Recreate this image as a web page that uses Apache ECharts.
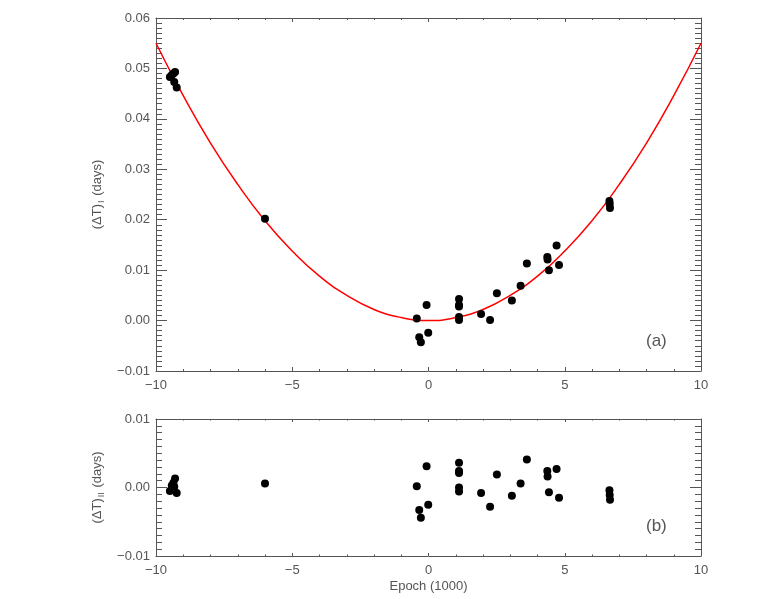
<!DOCTYPE html>
<html>
<head>
<meta charset="utf-8">
<script src="https://cdn.jsdelivr.net/npm/echarts@6/dist/echarts.min.js"></script>
<style>
  html, body { margin: 0; padding: 0; background: #fff; }
  #chart { width: 779px; height: 599px; }
</style>
</head>
<body>
<div id="chart"></div>
<script>
  // epoch in units of 1000 cycles
  const epoch = [
    -9.49, -9.42, -9.36, -9.30, -9.33, -9.24,
    -6.00,
    -0.43, -0.34, -0.28, -0.07, -0.01,
    1.12, 1.12, 1.12, 1.12, 1.12,
    1.93, 2.26, 2.51, 3.06, 3.38, 3.61, 4.36, 4.37, 4.42, 4.70, 4.79,
    6.64, 6.65, 6.66
  ];
  // (dT)_I, days
  const dtOne = [
    0.0483, 0.0487, 0.0490, 0.0493, 0.0473, 0.0462,
    0.0202,
    0.0004, -0.0033, -0.0043, 0.0031, -0.0024,
    0.0043, 0.0031, 0.0028, 0.0007, 0.0001,
    0.0013, 0.0001, 0.0054, 0.0040, 0.0069, 0.0113, 0.0126, 0.0121, 0.0100, 0.0149, 0.0110,
    0.0237, 0.0231, 0.0223
  ];
  // (dT)_II residuals, days
  const dtTwo = [
    -0.0005, 0.0003, 0.0007, 0.0013, 0.0001, -0.0008,
    0.0006,
    0.0002, -0.0033, -0.0044, 0.0031, -0.0025,
    0.0036, 0.0024, 0.0021, 0.0000, -0.0006,
    -0.0008, -0.0028, 0.0019, -0.0012, 0.0006, 0.0041, 0.0024, 0.0016, -0.0007, 0.0027, -0.0015,
    -0.0004, -0.0011, -0.0018
  ];
  // fitted curve
  const fitEpoch = [-10, -9, -8, -7, -6, -5, -4, -3, -2, -1, 0, 1, 2, 3, 4, 5, 6, 7, 8, 9, 10];
  const fitDt = [
    0.0550, 0.0446, 0.0352, 0.0270, 0.0198, 0.0138, 0.0088, 0.0050, 0.0022, 0.0006,
    0.0000,
    0.0006, 0.0022, 0.0050, 0.0088, 0.0138, 0.0198, 0.0270, 0.0352, 0.0446, 0.0550
  ];
  // [min, max, major step, minor step]
  const xRange = [-10, 10, 5, 1];
  const yRangeTop = [-0.01, 0.06, 0.01, 0.001];
  const yRangeBottom = [-0.01, 0.01, 0.01, 0.001];

  const axisColor = '#555';
  const textColor = '#555';
  const font = 'Liberation Sans';

  const minus = s => String(s).replace('-', '\u2212');
  const fmtY = v => {
    let s = Math.abs(v) < 1e-9 ? '0.00' : v.toFixed(2);
    return minus(s);
  };

  // one x axis: pos bottom/top, step, tick length, with or without labels
  function xAx(gridIndex, pos, step, len, labels, name) {
    return {
      gridIndex: gridIndex,
      type: 'value',
      position: pos,
      min: xRange[0], max: xRange[1], interval: step,
      name: name || '',
      nameLocation: 'middle',
      nameGap: 24,
      nameTextStyle: { color: textColor, fontFamily: font, fontSize: 13 },
      axisLine: { show: labels, onZero: false, lineStyle: { color: axisColor, width: 1 } },
      axisTick: { show: true, inside: true, length: len, lineStyle: { color: axisColor, width: 1 } },
      axisLabel: { show: labels && pos === 'bottom', margin: 8, color: textColor, fontFamily: font, fontSize: 13, formatter: v => minus(v) },
      splitLine: { show: false }
    };
  }

  function yAx(gridIndex, pos, range, step, len, labels, sub) {
    return {
      gridIndex: gridIndex,
      type: 'value',
      position: pos,
      min: range[0], max: range[1], interval: step,
      name: sub ? '{a|(\u0394T)}{s|' + sub + '}{a| (days)}' : '',
      nameLocation: 'middle',
      nameGap: 48,
      nameRotate: 90,
      nameTextStyle: {
        color: textColor, fontFamily: font, fontSize: 13,
        rich: {
          a: { color: textColor, fontFamily: font, fontSize: 13, lineHeight: 18 },
          s: { color: textColor, fontFamily: font, fontSize: 9, lineHeight: 18, verticalAlign: 'bottom', padding: [0, 1, 0, 1] }
        }
      },
      axisLine: { show: labels, onZero: false, lineStyle: { color: axisColor, width: 1 } },
      axisTick: { show: true, inside: true, length: len, lineStyle: { color: axisColor, width: 1 } },
      axisLabel: { show: labels && pos === 'left', margin: 6, color: textColor, fontFamily: font, fontSize: 13, formatter: fmtY },
      splitLine: { show: false }
    };
  }

  const pts1 = epoch.map((x, i) => [x, dtOne[i]]);
  const pts2 = epoch.map((x, i) => [x, dtTwo[i]]);
  const fitPts = fitEpoch.map((x, i) => [x, fitDt[i]]);

  const gTop = { left: 156, right: 78, top: 18, height: 353 };
  const gBot = { left: 156, right: 78, top: 419, height: 137 };

  let chart = echarts.init(document.getElementById('chart'), null, { renderer: 'canvas' });
  let option = {
    animation: false,
    backgroundColor: '#fff',
    // grids 0/1 carry the data and major ticks, grids 2/3 only the minor ticks
    grid: [gTop, gBot, Object.assign({}, gTop), Object.assign({}, gBot)],
    xAxis: [
      xAx(0, 'bottom', xRange[2], 4, true),
      xAx(0, 'top', xRange[2], 4, true),
      xAx(1, 'bottom', xRange[2], 3, true, 'Epoch (1000)'),
      xAx(1, 'top', xRange[2], 3, true),
      xAx(2, 'bottom', xRange[3], 2, false),
      xAx(2, 'top', xRange[3], 2, false),
      xAx(3, 'bottom', xRange[3], 1.5, false),
      xAx(3, 'top', xRange[3], 1.5, false)
    ],
    yAxis: [
      yAx(0, 'left', yRangeTop, yRangeTop[2], 11, true, 'I'),
      yAx(0, 'right', yRangeTop, yRangeTop[2], 11, true),
      yAx(1, 'left', yRangeBottom, yRangeBottom[2], 11, true, 'II'),
      yAx(1, 'right', yRangeBottom, yRangeBottom[2], 11, true),
      yAx(2, 'left', yRangeTop, yRangeTop[3], 6, false),
      yAx(2, 'right', yRangeTop, yRangeTop[3], 6, false),
      yAx(3, 'left', yRangeBottom, yRangeBottom[3], 6, false),
      yAx(3, 'right', yRangeBottom, yRangeBottom[3], 6, false)
    ],
    graphic: [
      { type: 'text', left: 646, top: 333, style: { text: '(a)', fill: textColor, font: '17px "Liberation Sans"' } },
      { type: 'text', left: 646, top: 518, style: { text: '(b)', fill: textColor, font: '17px "Liberation Sans"' } }
    ],
    series: [
      {
        type: 'line',
        xAxisIndex: 0, yAxisIndex: 0,
        data: fitPts,
        smooth: true,
        showSymbol: false,
        lineStyle: { color: '#ff0000', width: 1.5 },
        z: 2
      },
      {
        type: 'scatter',
        xAxisIndex: 0, yAxisIndex: 0,
        data: pts1,
        symbolSize: 8,
        itemStyle: { color: '#000', opacity: 1 },
        z: 3
      },
      {
        type: 'scatter',
        xAxisIndex: 2, yAxisIndex: 2,
        data: pts2,
        symbolSize: 8,
        itemStyle: { color: '#000', opacity: 1 },
        z: 3
      }
    ]
  };
  chart.setOption(option, true);
</script>
</body>
</html>
